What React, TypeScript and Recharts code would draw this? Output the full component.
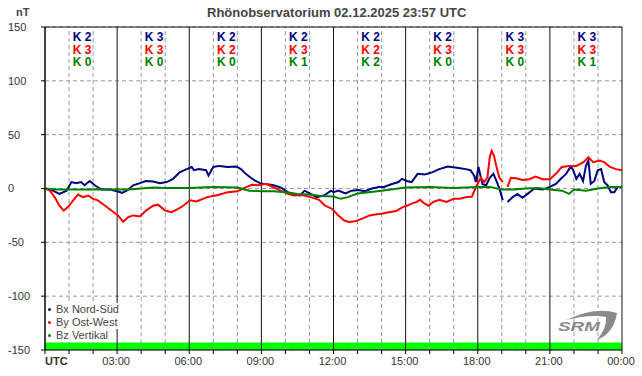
import React from "react";
import {
  LineChart,
  Line,
  XAxis,
  YAxis,
  CartesianGrid,
  ReferenceLine,
  ReferenceArea,
} from "recharts";

const FONT = "'Liberation Sans', Arial, Helvetica, sans-serif";

// axis / grid
const HOURS = [0, 1, 2, 3, 4, 5, 6, 7, 8, 9, 10, 11, 12, 13, 14, 15, 16, 17, 18, 19, 20, 21, 22, 23, 24];
const Y_TICKS = [-150, -100, -50, 0, 50, 100, 150];

// K indices per 3h block
const BLOCK_MID = [1.5, 4.5, 7.5, 10.5, 13.5, 16.5, 19.5, 22.5];
const K_BX = [2, 3, 2, 2, 2, 2, 3, 3];
const K_BY = [3, 3, 2, 3, 2, 3, 3, 3];
const K_BZ = [0, 0, 0, 1, 2, 0, 0, 1];

// Bx Nord-Süd (hours UTC, nT)
const BX_T = [0, 0.33, 0.6, 0.9, 1.1, 1.3, 1.5, 1.65, 1.86, 2.07, 2.35, 2.7, 3.0, 3.2, 3.4, 3.67, 3.95, 4.2, 4.5, 4.78, 5.06, 5.33, 5.6, 5.9, 6.1, 6.2, 6.4, 6.7, 6.8, 7.0, 7.25, 7.6, 7.95, 8.15, 8.35, 8.56, 8.76, 9.0, 9.25, 9.5, 9.8, 10.1, 10.35, 10.6, 10.8, 11.05, 11.3, 11.6, 11.9, 12.0, 12.2, 12.5, 12.75, 13.03, 13.3, 13.6, 13.9, 14.1, 14.4, 14.7, 14.85, 15.05, 15.25, 15.5, 15.8, 16.1, 16.4, 16.75, 17.2, 17.5, 17.7, 17.85, 17.92, 18.03, 18.13, 18.2, 18.35, 18.5, 18.65, 18.8, 18.93, 19.04, 19.1, 19.24, 19.45, 19.65, 19.86, 20.07, 20.35, 20.7, 21.0, 21.25, 21.46, 21.67, 21.875, 21.97, 22.1, 22.24, 22.38, 22.5, 22.6, 22.7, 22.85, 22.99, 23.13, 23.26, 23.4, 23.54, 23.68, 23.82, 24];
const BX_V = [0, -2, -5, -2, 6, 5, 6, 3, 7, 3, -1, -1, -2.5, -4, -2, 3, 5, 7, 6.5, 5, 6, 9, 15, 18, 20, 17, 18, 17, 12, 20, 21, 20, 20.5, 18, 13.6, 10, 7, 4.3, 4, 3, 1, -3.4, -5, -6.5, -2, -5, -8, -6.5, -2, -3.4, -2, -4.6, -2, -1.5, -2.5, 0, 1.5, 1.5, 4, 6, 9, 7, 6, 13.6, 13, 15, 18, 20.5, 19, 18, 17, 12, 6, 20, 10, 4, 3, 10, 13.6, 6, -2, -11, null, -12.5, -8, -5, -8.6, -5, 0, -1, 1.5, 4.3, 9, 13.6, 20.5, 17, 9, 13.6, 7, 21, 26, 4.3, 7, 17, 18, 6, 3, -3.4, -3.4, 1.5, 1.5];

// By Ost-West
const BY_T = [0, 0.2, 0.4, 0.6, 0.78, 0.96, 1.17, 1.375, 1.58, 1.8, 2.0, 2.2, 2.5, 2.76, 3.04, 3.25, 3.46, 3.67, 3.95, 4.2, 4.5, 4.7, 5.0, 5.26, 5.54, 5.75, 6.03, 6.3, 6.75, 7.2, 7.6, 8.0, 8.35, 8.6, 8.9, 9.2, 9.5, 9.8, 10.1, 10.35, 10.7, 11.05, 11.4, 11.65, 11.95, 12.2, 12.45, 12.65, 12.9, 13.2, 13.5, 13.8, 14.0, 14.3, 14.6, 14.9, 15.05, 15.25, 15.46, 15.6, 15.75, 15.95, 16.15, 16.4, 16.7, 17.0, 17.25, 17.55, 17.75, 17.9, 18.03, 18.13, 18.27, 18.4, 18.5, 18.58, 18.68, 18.78, 18.9, 19.04, 19.1, 19.24, 19.38, 19.6, 19.86, 20.15, 20.4, 20.7, 21.0, 21.25, 21.5, 21.8, 22.1, 22.4, 22.6, 22.8, 23.07, 23.26, 23.5, 23.75, 24];
const BY_V = [0, -2, -8, -16, -20.5, -17, -11, -5.6, -8, -6.5, -9.6, -11, -16, -20.5, -25, -31, -26.6, -25, -26, -20.5, -16, -15, -20.5, -22, -19, -16, -11, -12, -8, -6, -3.4, -2.5, 1, 3.4, 3, 4.3, 1, -2, -5, -6.5, -6, -8, -10.5, -16, -19, -25, -29.7, -31, -30.5, -28, -25, -24, -23.5, -22, -21, -17, -16, -14, -12.5, -10.5, -13.5, -16, -12.5, -10.5, -12.5, -9.6, -9.6, -8, -7.7, 0, 6, 10, 6, 10, 29, 35, 30, 20, 10, 6, null, 1.5, 10, 9.6, 8, 8.6, 11, 8.6, 8.6, 13.6, 20, 21, 21, 24.5, 29, 24.5, 26, 24.5, 20, 18, 17];

// Bz Vertikal
const BZ_T = [0, 0.5, 1, 2, 3, 3.5, 4, 4.5, 5, 6, 7, 8, 8.5, 9, 9.5, 10, 10.5, 11, 11.5, 12, 12.3, 12.6, 13, 14, 15, 16, 17, 18, 18.5, 19, 19.5, 20, 20.5, 21, 21.5, 21.8, 22, 22.5, 23, 23.5, 24];
const BZ_V = [0, -1, -1, -1, -1, -1, 0, 1, 0.5, 0.5, 1.5, 1, -2, -2.5, -2.5, -3.4, -5, -5.5, -7, -7.5, -9.6, -8, -4.6, -2, 1, 1.5, 0.5, 1.5, 1.5, -1, -1, 0, 0.5, -1, -2, -5, -1, -2, 0, 1.5, 1.5];

const SERIES = [
  { name: "Bx Nord-Süd", color: "#000080", t: BX_T, v: BX_V },
  { name: "By Ost-West", color: "#ff0000", t: BY_T, v: BY_V },
  { name: "Bz Vertikal", color: "#008000", t: BZ_T, v: BZ_V },
];
const K_ROWS = [K_BX, K_BY, K_BZ];

const toPoints = (t: number[], v: (number | null)[]) => t.map((x, i) => ({ t: x, v: v[i] }));

function XTick(props: any) {
  const { x, y, payload } = props;
  const h = payload.value as number;
  if (h % 3 !== 0) return <g />;
  if (h === 0) {
    return (
      <text x={x} y={y} dy="0.71em" textAnchor="start" fontSize={11} fontWeight="bold" fill="#333" fontFamily={FONT}>
        UTC
      </text>
    );
  }
  const label = String(h % 24).padStart(2, "0") + ":00";
  return (
    <text x={x - 1} y={y} dy="0.71em" textAnchor="middle" fontSize={11} fill="#333" fontFamily={FONT}>
      {label}
    </text>
  );
}

function YTick(props: any) {
  const { y, payload } = props;
  return (
    <text x={8} y={y} dy="0.35em" textAnchor="start" fontSize={11} fill="#333" fontFamily={FONT}>
      {payload.value}
    </text>
  );
}

function KLabel({ viewBox, idx }: any) {
  if (!viewBox) return null;
  const { x, y } = viewBox;
  return (
    <g fontFamily={FONT} fontSize={12} fontWeight="bold" textAnchor="middle">
      {K_ROWS.map((row, r) => (
        <text key={r} x={x + 1} y={y + 14 + r * 12.5} fill={SERIES[r].color}>
          {"K " + row[idx]}
        </text>
      ))}
    </g>
  );
}

export default function App() {
  return (
    <div style={{ position: "absolute", left: 0, top: 0, width: 642, height: 376, background: "#fff", fontFamily: FONT }}>
      <LineChart width={642} height={376} margin={{ top: 27, right: 20, left: 0, bottom: 0 }}>
        <CartesianGrid vertical={false} stroke="#9a9a9a" strokeDasharray="4 3" />
        <XAxis
          type="number"
          dataKey="t"
          domain={[0, 24]}
          ticks={HOURS}
          interval={0}
          height={26}
          tickSize={4}
          tickMargin={3}
          stroke="#000"
          tick={<XTick />}
          allowDataOverflow
        />
        <YAxis
          type="number"
          dataKey="v"
          domain={[-150, 150]}
          ticks={Y_TICKS}
          interval={0}
          width={45}
          tickSize={4}
          stroke="#000"
          tick={<YTick />}
          allowDataOverflow
        />
        {HOURS.map((h) =>
          h % 3 === 0 ? (
            <ReferenceLine key={"h" + h} x={h} stroke="#111" strokeWidth={1} />
          ) : (
            <ReferenceLine key={"h" + h} x={h} stroke="#9a9a9a" strokeDasharray="4 3" />
          )
        )}
        <ReferenceLine y={150} stroke="#111" />
        <ReferenceArea x1={0} x2={24} y1={-150} y2={-143} fill="#00ff00" fillOpacity={1} stroke="none" />
        {BLOCK_MID.map((m, i) => (
          <ReferenceLine key={"k" + i} x={m} stroke="none" label={(p: any) => <KLabel viewBox={p.viewBox} idx={i} />} />
        ))}
        {SERIES.map((s) => (
          <Line
            key={s.name}
            data={toPoints(s.t, s.v)}
            dataKey="v"
            name={s.name}
            type="linear"
            stroke={s.color}
            strokeWidth={2}
            dot={false}
            isAnimationActive={false}
          />
        ))}
      </LineChart>

      {/* title and unit */}
      <div style={{ position: "absolute", left: 207, top: 5, fontSize: 13, fontWeight: "bold", color: "#444", whiteSpace: "nowrap" }}>
        Rhönobservatorium 02.12.2025 23:57 UTC
      </div>
      <div style={{ position: "absolute", left: 16, top: 6, fontSize: 11, fontWeight: "bold", color: "#444" }}>nT</div>

      {/* legend */}
      <div style={{ position: "absolute", left: 48, top: 303, fontSize: 11, color: "#444", lineHeight: "13px" }}>
        {SERIES.map((s) => (
          <div key={s.name} style={{ display: "flex", alignItems: "center", whiteSpace: "nowrap" }}>
            <span style={{ width: 3, height: 3, borderRadius: 2, background: s.color, marginRight: 5, display: "inline-block" }} />
            <span style={{ background: "#fff" }}>{s.name}</span>
          </div>
        ))}
      </div>

      {/* logo */}
      <svg style={{ position: "absolute", left: 0, top: 0 }} width={642} height={376}>
        <path d="M 566 320 Q 596 306 617 313 Q 614 333 597 340 Q 607 328 606 317 Q 590 314 566 320 Z" fill="#8a8a8a" />
        <text x={558} y={331} fontSize={12} fontStyle="italic" fontWeight="bold" fill="#8a8a8a" fontFamily={FONT} textLength={42} lengthAdjust="spacingAndGlyphs">
          SRM
        </text>
      </svg>
    </div>
  );
}
